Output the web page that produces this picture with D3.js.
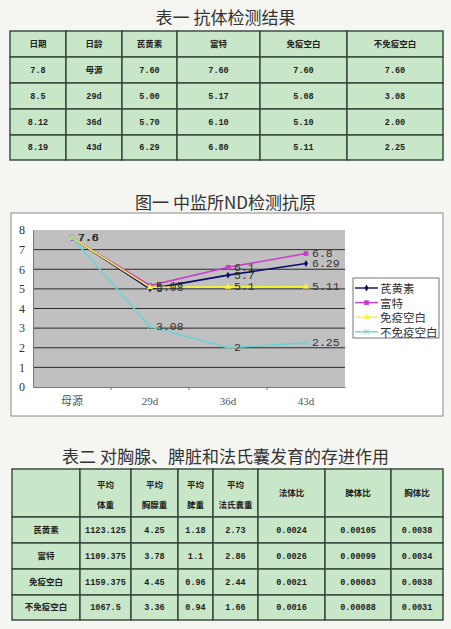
<!DOCTYPE html>
<html>
<head>
<meta charset="utf-8">
<script src="https://cdn.jsdelivr.net/npm/d3@7"></script>
<style>
  body { margin: 0; background: #f5f6f2; }
  svg { display: block; }
</style>
</head>
<body>
<script>
"use strict";
const W = 451, H = 629;

// 表一 抗体检测结果
const t1Header = ["日期", "日龄", "芪黄素", "富特", "免疫空白", "不免疫空白"];
const dates = ["7.8", "8.5", "8.12", "8.19"];
const ages = ["母源", "29d", "36d", "43d"];
const qihuangsu = [7.60, 5.00, 5.70, 6.29];
const fute = [7.60, 5.17, 6.10, 6.80];
const mianyiBlank = [7.60, 5.08, 5.10, 5.11];
const buMianyiBlank = [7.60, 3.08, 2.00, 2.25];
const seriesNames = ["芪黄素", "富特", "免疫空白", "不免疫空白"];
const yTicks = [0, 1, 2, 3, 4, 5, 6, 7, 8];

// 表二 对胸腺、脾脏和法氏囊发育的存进作用
const t2Header = ["", "平均\n体重", "平均\n胸腺重", "平均\n脾重", "平均\n法氏囊重", "法体比", "脾体比", "胸体比"];
const groups = ["芪黄素", "富特", "免疫空白", "不免疫空白"];
const bodyWeight = [1123.125, 1109.375, 1159.375, 1067.5];
const thymusWeight = [4.25, 3.78, 4.45, 3.36];
const spleenWeight = [1.18, 1.1, 0.96, 0.94];
const bursaWeight = [2.73, 2.86, 2.44, 1.66];
const bursaRatio = [0.0024, 0.0026, 0.0021, 0.0016];
const spleenRatio = [0.00105, 0.00099, 0.00083, 0.00088];
const thymusRatio = [0.0038, 0.0034, 0.0038, 0.0031];

const cjk = "'Noto Sans CJK SC', 'Noto Sans', sans-serif";
const mono = "'Liberation Mono', 'Noto Sans CJK SC', monospace";
const serif = "'Liberation Serif', 'Noto Sans CJK SC', serif";

const svg = d3.select("body").append("svg")
    .attr("width", W)
    .attr("height", H);

function title(text, y) {
    svg.append("text")
        .attr("x", W / 2)
        .attr("y", y)
        .attr("text-anchor", "middle")
        .attr("dominant-baseline", "central")
        .attr("font-family", cjk)
        .attr("font-size", 17)
        .attr("fill", "#333")
        .text(text);
}

function drawTable(rows, colEdges, rowEdges) {
    const g = svg.append("g");
    const cells = [];
    rows.forEach((row, r) => row.forEach((v, c) => cells.push({ r, c, v })));

    g.selectAll("rect")
        .data(cells)
        .enter()
        .append("rect")
            .attr("x", d => colEdges[d.c])
            .attr("y", d => rowEdges[d.r])
            .attr("width", d => colEdges[d.c + 1] - colEdges[d.c])
            .attr("height", d => rowEdges[d.r + 1] - rowEdges[d.r])
            .attr("fill", "#c8e6c8")
            .attr("stroke", "#34443a")
            .attr("stroke-width", 1.4);

    g.selectAll("text")
        .data(cells)
        .enter()
        .append("text")
            .attr("x", d => (colEdges[d.c] + colEdges[d.c + 1]) / 2)
            .attr("y", d => (rowEdges[d.r] + rowEdges[d.r + 1]) / 2)
            .attr("text-anchor", "middle")
            .attr("font-family", mono)
            .attr("font-weight", "bold")
            .attr("font-size", 8.5)
            .attr("fill", "#222")
            .each(function(d) {
                const lines = String(d.v).split("\n");
                const t = d3.select(this);
                lines.forEach((line, i) => {
                    t.append("tspan")
                        .attr("x", (colEdges[d.c] + colEdges[d.c + 1]) / 2)
                        .attr("dy", i === 0 ? (0.35 - (lines.length - 1) * 0.9) + "em" : "2.3em")
                        .text(line);
                });
            });
}

// ---------- 表一 ----------
title("表一 抗体检测结果", 16);
const t1Rows = [t1Header].concat(dates.map((d, i) => [
    d, ages[i],
    qihuangsu[i].toFixed(2), fute[i].toFixed(2),
    mianyiBlank[i].toFixed(2), buMianyiBlank[i].toFixed(2)
]));
drawTable(t1Rows, [10, 66, 122, 177, 260, 347, 443], [31, 57, 83, 109, 135, 160]);

// ---------- 图一 ----------
title("图一 中监所ND检测抗原", 201);

svg.append("rect")
    .attr("x", 11).attr("y", 213)
    .attr("width", 432).attr("height", 203)
    .attr("fill", "#fff")
    .attr("stroke", "#8a8a8a")
    .attr("stroke-width", 1);

const plot = { left: 33, right: 345, top: 230, bottom: 387 };
const x = d3.scaleBand().domain(ages).range([plot.left, plot.right]);
const y = d3.scaleLinear().domain([0, 8]).range([plot.bottom, plot.top]);

svg.append("rect")
    .attr("x", plot.left).attr("y", plot.top)
    .attr("width", plot.right - plot.left)
    .attr("height", plot.bottom - plot.top)
    .attr("fill", "#c0c0c0");

svg.append("g").selectAll("line")
    .data(yTicks.filter(t => t > 0 && t < 8))
    .enter()
    .append("line")
        .attr("x1", plot.left).attr("x2", plot.right)
        .attr("y1", d => y(d)).attr("y2", d => y(d))
        .attr("stroke", "#2a2a2a")
        .attr("stroke-width", 1);

// axes
const yAxis = svg.append("g")
    .attr("transform", `translate(${plot.left},0)`)
    .call(d3.axisLeft(y).tickValues(yTicks).tickSize(0).tickPadding(8));
yAxis.select(".domain").attr("stroke", "#777");
yAxis.selectAll("text")
    .attr("font-family", serif)
    .attr("font-size", 12)
    .attr("fill", "#333");

const xAxis = svg.append("g")
    .attr("transform", `translate(0,${plot.bottom})`)
    .call(d3.axisBottom(x).tickSize(0).tickPadding(10));
xAxis.select(".domain").attr("stroke", "#777");
xAxis.selectAll("text")
    .attr("font-family", serif)
    .attr("font-size", 11)
    .attr("fill", "#555");
svg.append("g").selectAll("line")
    .data(ages.slice(1))
    .enter()
    .append("line")
        .attr("x1", d => x(d)).attr("x2", d => x(d))
        .attr("y1", plot.bottom).attr("y2", plot.bottom + 3)
        .attr("stroke", "#777");

const series = [
    { name: seriesNames[0], values: qihuangsu, color: "#0b0b6e", marker: d3.symbolDiamond, size: 14 },
    { name: seriesNames[1], values: fute, color: "#cc3ccc", marker: d3.symbolSquare, size: 22 },
    { name: seriesNames[2], values: mianyiBlank, color: "#f5f53a", marker: d3.symbolTriangle, size: 18 },
    { name: seriesNames[3], values: buMianyiBlank, color: "#6fd3d3", marker: d3.symbolX, size: 18 }
];

const line = d3.line()
    .x((d, i) => x(ages[i]) + x.bandwidth() / 2)
    .y(d => y(d));

const sg = svg.append("g").selectAll("g")
    .data(series)
    .enter()
    .append("g");

sg.append("path")
    .attr("d", d => line(d.values))
    .attr("fill", "none")
    .attr("stroke", d => d.color)
    .attr("stroke-width", 1.6);

sg.each(function(s) {
    const g = d3.select(this);
    g.selectAll("path.m")
        .data(s.values)
        .enter()
        .append("path")
            .attr("class", "m")
            .attr("transform", (d, i) => `translate(${x(ages[i]) + x.bandwidth() / 2},${y(d)})`)
            .attr("d", d3.symbol().type(s.marker).size(s.size))
            .attr("fill", s.color)
            .attr("stroke", s.marker === d3.symbolX ? s.color : "none");
});

sg.each(function(s) {
    d3.select(this).selectAll("text")
        .data(s.values)
        .enter()
        .append("text")
            .attr("x", (d, i) => x(ages[i]) + x.bandwidth() / 2 + 6)
            .attr("y", d => y(d))
            .attr("dominant-baseline", "central")
            .attr("font-family", mono)
            .attr("font-size", 11.5)
            .attr("fill", "#333")
            .text(d => String(d));
});

// legend
const legend = svg.append("g");
legend.append("rect")
    .attr("x", 353).attr("y", 278)
    .attr("width", 86).attr("height", 60)
    .attr("fill", "#fff")
    .attr("stroke", "#777");
const li = legend.selectAll("g.item")
    .data(series)
    .enter()
    .append("g")
        .attr("class", "item")
        .attr("transform", (d, i) => `translate(355,${288 + i * 14.6})`);
li.append("line")
    .attr("x1", 0).attr("x2", 23)
    .attr("stroke", d => d.color)
    .attr("stroke-width", 1.4);
li.append("path")
    .attr("transform", "translate(11.5,0)")
    .attr("d", d => d3.symbol().type(d.marker).size(d.size)())
    .attr("fill", d => d.color)
    .attr("stroke", d => d.marker === d3.symbolX ? d.color : "none");
li.append("text")
    .attr("x", 25)
    .attr("dominant-baseline", "central")
    .attr("font-family", cjk)
    .attr("font-size", 11.5)
    .attr("fill", "#333")
    .text(d => d.name);

// ---------- 表二 ----------
title("表二 对胸腺、脾脏和法氏囊发育的存进作用", 455);
const t2Rows = [t2Header].concat(groups.map((g, i) => [
    g, bodyWeight[i], thymusWeight[i], spleenWeight[i], bursaWeight[i],
    bursaRatio[i], spleenRatio[i], thymusRatio[i]
]));
drawTable(t2Rows, [12, 80, 131, 178, 213, 258, 325, 391, 443], [469, 517, 543, 569, 595, 620]);
</script>
</body>
</html>
